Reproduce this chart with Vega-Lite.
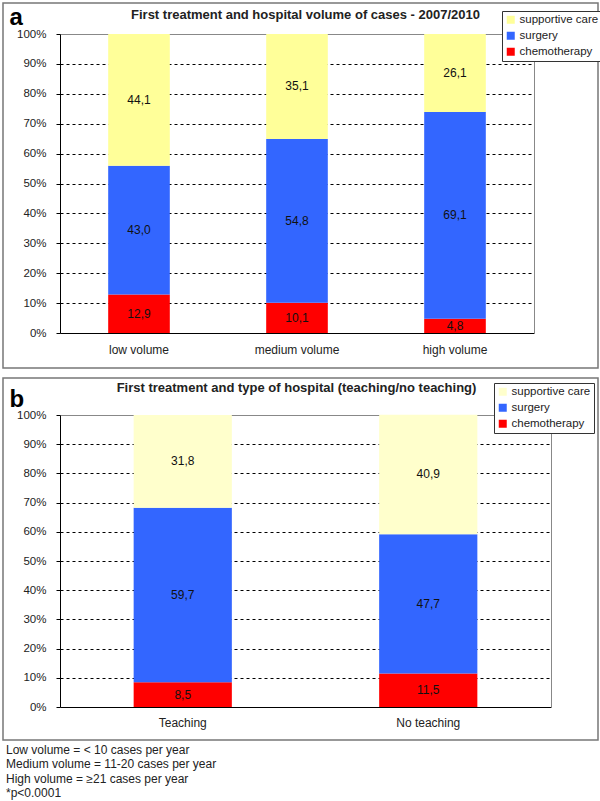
{
  "$schema": "https://vega.github.io/schema/vega-lite/v6.json",
  "background": "white",
  "padding": {"left": 2, "top": 2, "right": 0, "bottom": 0},
  "spacing": 8,
  "title": {
    "text": ["Low volume = < 10 cases per year", "Medium volume = 11-20 cases per year", "High volume = ≥21 cases per year", "*p<0.0001"],
    "orient": "bottom", "anchor": "start", "frame": "group",
    "font": "Liberation Sans", "fontSize": 12, "fontWeight": "normal", "lineHeight": 14.5,
    "offset": 4, "color": "#222", "dx": 3
  },
  "config": {
    "view": {"stroke": "#777", "strokeWidth": 1.5, "fill": "white"},
    "locale": {"number": {"decimal": ",", "thousands": ".", "grouping": [3], "currency": ["", " €"]}}
  },
  "vconcat": [
    {
      "width": 595,
      "height": 365,
      "data": {"values": [
        {"hospital": "low volume", "treatment": "chemotherapy", "value": 12.9},
        {"hospital": "low volume", "treatment": "surgery", "value": 43.0},
        {"hospital": "low volume", "treatment": "supportive care", "value": 44.1},
        {"hospital": "medium volume", "treatment": "chemotherapy", "value": 10.1},
        {"hospital": "medium volume", "treatment": "surgery", "value": 54.8},
        {"hospital": "medium volume", "treatment": "supportive care", "value": 35.1},
        {"hospital": "high volume", "treatment": "chemotherapy", "value": 4.8},
        {"hospital": "high volume", "treatment": "surgery", "value": 69.1},
        {"hospital": "high volume", "treatment": "supportive care", "value": 26.1}
      ]},
      "title": {
        "text": "First treatment and hospital volume of cases - 2007/2010",
        "offset": -25, "baseline": "middle", "anchor": "middle", "frame": "group", "dx": 5,
        "font": "Liberation Sans", "fontSize": 13, "fontWeight": "bold", "color": "#222"
      },
      "transform": [
        {"calculate": "indexof(['chemotherapy','surgery','supportive care'], datum.treatment)", "as": "rank"},
        {"stack": "value", "groupby": ["hospital"], "sort": [{"field": "rank", "order": "ascending"}], "as": ["v0", "v1"]},
        {"calculate": "(datum.v0 + datum.v1) / 2", "as": "mid"}
      ],
      "encoding": {
        "x": {
          "field": "hospital", "type": "nominal",
          "sort": ["low volume", "medium volume", "high volume"],
          "scale": {"range": [57, 531], "paddingInner": 0.61, "paddingOuter": 0.305},
          "axis": {"orient": "bottom", "offset": -35, "title": null, "ticks": false, "domainColor": "black",
                   "labelFont": "Liberation Sans", "labelFontSize": 12, "labelColor": "#222", "labelPadding": 11, "labelAngle": 0}
        }
      },
      "layer": [
        {
          "mark": {"type": "bar"},
          "encoding": {
            "y": {
              "field": "v0", "type": "quantitative",
              "scale": {"domain": [0, 100], "range": [330, 31], "nice": false},
              "axis": {
                "values": [0, 10, 20, 30, 40, 50, 60, 70, 80, 90, 100],
                "labelExpr": "datum.value + '%'",
                "title": "a", "titleAngle": 0, "titleAlign": "left", "titleBaseline": "alphabetic",
                "titleX": -51, "titleY": 21, "titleFontSize": 24, "titleFontWeight": "bold",
                "titleFont": "Liberation Sans", "titleColor": "black",
                "offset": -57, "domainColor": "black", "tickColor": "black", "tickSize": 4, "labelPadding": 10,
                "labelFont": "Liberation Sans", "labelFontSize": 11.5, "labelColor": "#222",
                "grid": true,
                "gridColor": {"condition": {"test": "datum.value === 100", "value": "#888888"}, "value": "black"},
                "gridDash": {"condition": {"test": "datum.value === 100", "value": []}, "value": [3, 3]},
                "gridOpacity": {"condition": {"test": "datum.value === 0", "value": 0}, "value": 1}
              }
            },
            "y2": {"field": "v1"},
            "color": {
              "field": "treatment", "type": "nominal",
              "scale": {"domain": ["supportive care", "surgery", "chemotherapy"], "range": ["#FFFF99", "#3366FF", "#FF0000"]},
              "legend": {
                "orient": "none", "legendX": 499, "legendY": 8, "title": null,
                "strokeColor": "#333", "fillColor": "white", "padding": 3,
                "symbolType": "square", "symbolSize": 64, "symbolStrokeWidth": 0,
                "labelFont": "Liberation Sans", "labelFontSize": 11.5, "labelColor": "#222",
                "rowPadding": 3, "labelLimit": 200, "labelOffset": 3
              }
            }
          }
        },
        {
          "mark": {"type": "text", "font": "Liberation Sans", "fontSize": 12, "color": "#111"},
          "encoding": {
            "y": {
              "field": "mid", "type": "quantitative",
              "axis": {"orient": "right", "offset": -64, "labels": false, "ticks": false, "grid": false,
                       "domainColor": "#888888", "title": null}
            },
            "text": {"field": "value", "type": "quantitative", "format": ".1f"}
          }
        }
      ],
      "resolve": {"axis": {"y": "independent"}}
    },
    {
      "width": 595,
      "height": 362,
      "data": {"values": [
        {"hospital": "Teaching", "treatment": "chemotherapy", "value": 8.5},
        {"hospital": "Teaching", "treatment": "surgery", "value": 59.7},
        {"hospital": "Teaching", "treatment": "supportive care", "value": 31.8},
        {"hospital": "No teaching", "treatment": "chemotherapy", "value": 11.5},
        {"hospital": "No teaching", "treatment": "surgery", "value": 47.7},
        {"hospital": "No teaching", "treatment": "supportive care", "value": 40.9}
      ]},
      "title": {
        "text": "First treatment and type of hospital (teaching/no teaching)",
        "offset": -23, "baseline": "middle", "anchor": "middle", "frame": "group", "dx": -4,
        "font": "Liberation Sans", "fontSize": 13, "fontWeight": "bold", "color": "#222"
      },
      "transform": [
        {"calculate": "indexof(['chemotherapy','surgery','supportive care'], datum.treatment)", "as": "rank"},
        {"stack": "value", "groupby": ["hospital"], "sort": [{"field": "rank", "order": "ascending"}], "as": ["v0", "v1"]},
        {"calculate": "(datum.v0 + datum.v1) / 2", "as": "mid"}
      ],
      "encoding": {
        "x": {
          "field": "hospital", "type": "nominal",
          "sort": ["Teaching", "No teaching"],
          "scale": {"range": [57, 548], "paddingInner": 0.6, "paddingOuter": 0.3},
          "axis": {"orient": "bottom", "offset": -33, "title": null, "ticks": false, "domainColor": "black",
                   "labelFont": "Liberation Sans", "labelFontSize": 12, "labelColor": "#222", "labelPadding": 10, "labelAngle": 0}
        }
      },
      "layer": [
        {
          "mark": {"type": "bar"},
          "encoding": {
            "y": {
              "field": "v0", "type": "quantitative",
              "scale": {"domain": [0, 100], "range": [329, 37], "nice": false},
              "axis": {
                "values": [0, 10, 20, 30, 40, 50, 60, 70, 80, 90, 100],
                "labelExpr": "datum.value + '%'",
                "title": "b", "titleAngle": 0, "titleAlign": "left", "titleBaseline": "alphabetic",
                "titleX": -51, "titleY": 28, "titleFontSize": 24, "titleFontWeight": "bold",
                "titleFont": "Liberation Sans", "titleColor": "black",
                "offset": -57, "domainColor": "black", "tickColor": "black", "tickSize": 4, "labelPadding": 10,
                "labelFont": "Liberation Sans", "labelFontSize": 11.5, "labelColor": "#222",
                "grid": true,
                "gridColor": {"condition": {"test": "datum.value === 100", "value": "#888888"}, "value": "black"},
                "gridDash": {"condition": {"test": "datum.value === 100", "value": []}, "value": [3, 3]},
                "gridOpacity": {"condition": {"test": "datum.value === 0", "value": 0}, "value": 1}
              }
            },
            "y2": {"field": "v1"},
            "color": {
              "field": "treatment", "type": "nominal",
              "scale": {"domain": ["supportive care", "surgery", "chemotherapy"], "range": ["#FFFFCC", "#3366FF", "#FF0000"]},
              "legend": {
                "orient": "none", "legendX": 491, "legendY": 5, "title": null,
                "strokeColor": "#333", "fillColor": "white", "padding": 3,
                "symbolType": "square", "symbolSize": 64, "symbolStrokeWidth": 0,
                "labelFont": "Liberation Sans", "labelFontSize": 11.5, "labelColor": "#222",
                "rowPadding": 3, "labelLimit": 200, "labelOffset": 3
              }
            }
          }
        },
        {
          "mark": {"type": "text", "font": "Liberation Sans", "fontSize": 12, "color": "#111"},
          "encoding": {
            "y": {
              "field": "mid", "type": "quantitative",
              "axis": {"orient": "right", "offset": -47, "labels": false, "ticks": false, "grid": false,
                       "domainColor": "#888888", "title": null}
            },
            "text": {"field": "value", "type": "quantitative", "format": ".1f"}
          }
        }
      ],
      "resolve": {"axis": {"y": "independent"}, "scale": {"color": "independent"}}
    }
  ],
  "resolve": {"scale": {"color": "independent"}}
}
